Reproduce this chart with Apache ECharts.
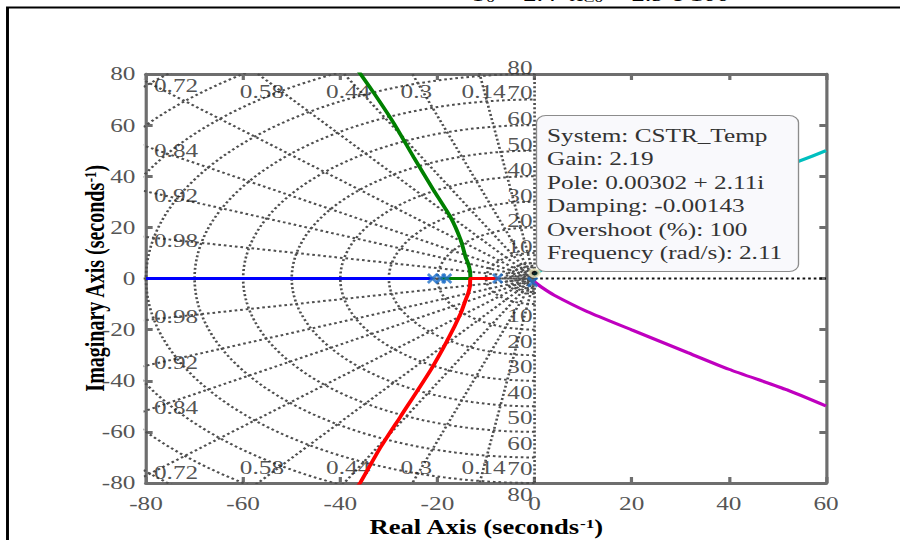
<!DOCTYPE html>
<html>
<head>
<meta charset="utf-8">
<script src="https://cdn.jsdelivr.net/npm/echarts/dist/echarts.min.js"></script>
<style>
html,body{margin:0;padding:0;background:#fff;}
#wrap{width:900px;height:540px;overflow:hidden;background:#fff;}
/* 原图横向被拉伸，这里用 scaleX 复现 */
#main{width:677px;height:540px;transform:scaleX(1.3294);transform-origin:0 0;}
</style>
</head>
<body>
<div id="wrap"><div id="main"></div></div>
<script>
// 坐标轴刻度
var xTicks = [-80, -60, -40, -20, 0, 20, 40, 60];
var yTicks = [-80, -60, -40, -20, 0, 20, 40, 60, 80];

// sgrid 阻尼比 / 自然频率
var zetaLevels = [0.14, 0.3, 0.44, 0.58, 0.72, 0.84, 0.92, 0.98];
var wnLevels = [10, 20, 30, 40, 50, 60, 70, 80];
var wnOuter = [90, 100, 110];
var wnSmall = [1, 2, 3, 4, 5, 6];

// 根轨迹分支
var blueRe = [-80, -21];
var blueIm = [0, 0];
var greenRe = [-19.3, -13.2, -13.3, -13.7, -14.2, -15.2, -17.3, -20.8, -24.9, -29.0, -33.1, -36.2];
var greenIm = [0, 0, 3, 6, 8.4, 15, 24, 34.6, 47.5, 60.8, 72.6, 81];
var redRe = [-7.6, -13.2, -13.3, -13.7, -14.2, -15.2, -17.9, -21.4, -27.6, -31.7, -35.8, -36.3];
var redIm = [0, 0, -3, -6, -8.4, -13.6, -24, -35.8, -54, -66, -79.6, -81];
var magentaRe = [-0.1, 1.5, 4.0, 10.9, 20.0, 31.4, 40.0, 52.0, 60];
var magentaIm = [-1.2, -3.5, -6.5, -13.0, -20.1, -28.9, -35.5, -43.6, -49.9];
var cyanRe = [-0.1, 1.5, 4.0, 10.9, 20.0, 31.4, 40.0, 54.6, 60];
var cyanIm = [1.2, 3.5, 6.5, 13.0, 20.1, 28.9, 35.5, 46, 50];

// 极点
var poleRe = [-21, -19.3, -18.1, -7.6, -0.4];
var poleIm = [0, 0, 0, 0, -1.4];

// 数据提示
var tipRe = 0.00302;
var tipIm = 2.11;
var tipLines = [
    'System: CSTR_Temp',
    'Gain: 2.19',
    'Pole: 0.00302 + 2.11i',
    'Damping: -0.00143',
    'Overshoot (%): 100',
    'Frequency (rad/s): 2.11'
];

var K = 900 / 677;   // 横向拉伸比例
var serif = 'Liberation Serif';
var gridGray = '#4f4f4f';
var axisGray = '#6e6e6e';

function zip(a, b) {
    var out = [];
    for (var i = 0; i < a.length; i++) out.push([a[i], b[i]]);
    return out;
}

function circle(wn) {
    var pts = [];
    for (var i = 0; i <= 120; i++) {
        var t = -Math.PI / 2 + Math.PI * i / 120;
        pts.push([-wn * Math.cos(t), wn * Math.sin(t)]);
    }
    return pts;
}

function gridLine(data, color) {
    return {
        type: 'line', data: data, showSymbol: false, silent: true, z: 1,
        lineStyle: {color: color || gridGray, width: 2, type: [2, 2.2]}
    };
}

var series = [];

// 等频率圆
wnSmall.concat(wnLevels, wnOuter).forEach(function (wn) {
    series.push(gridLine(circle(wn)));
});

// 等阻尼线
zetaLevels.concat([1]).forEach(function (z) {
    var R = 200, s = Math.sqrt(1 - z * z);
    series.push(gridLine([[-R * z, R * s], [0, 0], [-R * z, -R * s]]));
});
series.push(gridLine([[0, -80], [0, 80]]));
series.push(gridLine([[0, 0], [60, 0]], '#111'));

// 标签
var labelData = [];
zetaLevels.forEach(function (z) {
    var s = Math.sqrt(1 - z * z);
    var yEdge = 80 * s / z;
    var txt = String(z);
    if (yEdge >= 80) {
        var xe = -80 * z / s;
        labelData.push({value: [xe, 80], label: {formatter: txt, align: 'center', verticalAlign: 'middle', offset: [4 / K, 18]}});
        labelData.push({value: [xe, -80], label: {formatter: txt, align: 'center', verticalAlign: 'middle', offset: [4 / K, -15]}});
    } else {
        labelData.push({value: [-80, yEdge], label: {formatter: txt, align: 'left', verticalAlign: 'middle', offset: [8 / K, 4]}});
        labelData.push({value: [-80, -yEdge], label: {formatter: txt, align: 'left', verticalAlign: 'middle', offset: [8 / K, -3]}});
    }
});
wnLevels.forEach(function (wn) {
    labelData.push({value: [0, wn], label: {formatter: String(wn), align: 'right', verticalAlign: 'bottom', offset: [-2 / K, 3]}});
    labelData.push({value: [0, -wn], label: {formatter: String(wn), align: 'right', verticalAlign: 'top', offset: [-2 / K, 2]}});
});
series.push({
    type: 'scatter', data: labelData, symbolSize: 0, silent: true, clip: false, z: 3,
    label: {show: true, position: 'inside', fontFamily: serif, fontSize: 19, color: '#262626'}
});

// 分支
function branch(re, im, color) {
    return {
        type: 'line', data: zip(re, im), showSymbol: false, z: 4,
        smooth: 0.2,
        lineStyle: {color: color, width: 3}
    };
}
series.push(branch(blueRe, blueIm, '#0000ff'));
series.push(branch(greenRe, greenIm, '#008000'));
series.push(branch(redRe, redIm, '#ff0000'));
series.push(branch(magentaRe, magentaIm, '#bf00bf'));
series.push(branch(cyanRe, cyanIm, '#00bfbf'));

series.push({
    type: 'scatter', data: zip(poleRe, poleIm), z: 5,
    symbol: 'path://M0,0L10,10M10,0L0,10', symbolSize: [7, 9],
    itemStyle: {color: 'rgba(0,0,0,0)', borderColor: '#1f6fc8', borderWidth: 2.4}
});
series.push({
    type: 'scatter', data: [[tipRe, tipIm]], z: 6, symbolSize: 7,
    itemStyle: {color: '#000', borderColor: '#f3eec4', borderWidth: 2.5}
});

function xAxisCfg(pos, labels) {
    return {
        type: 'value', position: pos, min: -80, max: 60, interval: 20,
        axisLine: {show: true, onZero: false, lineStyle: {color: axisGray, width: 3}},
        axisTick: {show: true, inside: true, length: 6, lineStyle: {color: axisGray, width: 2.4}},
        axisLabel: {show: labels, margin: 11, fontFamily: serif, fontSize: 19, color: '#555'},
        splitLine: {show: false}
    };
}
function yAxisCfg(pos, labels) {
    return {
        type: 'value', position: pos, min: -80, max: 80, interval: 20,
        axisLine: {show: true, onZero: false, lineStyle: {color: axisGray, width: 2.4}},
        axisTick: {show: true, inside: true, length: 5, lineStyle: {color: axisGray, width: 3}},
        axisLabel: {show: labels, margin: 8, fontFamily: serif, fontSize: 19, color: '#555'},
        splitLine: {show: false}
    };
}

var supStyle = {fontFamily: serif, fontSize: 13, fontWeight: 'bold', color: '#000', verticalAlign: 'top', padding: [0, 0, 8, 0]};

var xMain = xAxisCfg('bottom', true);
xMain.name = 'Real Axis (seconds{sup|-1})';
xMain.nameLocation = 'middle';
xMain.nameGap = 34;
xMain.nameMoveOverlap = false;
xMain.nameTextStyle = {fontFamily: serif, fontSize: 20, fontWeight: 'bold', color: '#000', rich: {sup: supStyle}};

var yMain = yAxisCfg('left', true);
yMain.name = 'Imaginary Axis (seconds{sup|-1})';
yMain.nameLocation = 'middle';
yMain.nameGap = 28;
yMain.nameMoveOverlap = false;
yMain.nameTextStyle = {fontFamily: serif, fontSize: 20, fontWeight: 'bold', color: '#000', rich: {sup: supStyle}};

var myChart = echarts.init(document.getElementById('main'), null, {renderer: 'svg'});
var option = {
    animation: false,
    backgroundColor: '#fff',
    grid: {left: 146 / K, right: 74 / K, top: 74, bottom: 57, containLabel: false, outerBoundsMode: 'none'},
    xAxis: [xMain, xAxisCfg('top', false)],
    yAxis: [yMain, yAxisCfg('right', false)],
    series: series,
    graphic: [
        {
            // 被裁掉的标题
            type: 'text', z: 100, silent: true, left: 470 / K, top: -16,
            style: {
                text: 'T{sub|0} = 2.4  x{sub|C0} = 2.9 e 100',
                font: '20px "Liberation Serif"', fill: '#000',
                rich: {sub: {fontFamily: serif, fontSize: 13, fill: '#000', verticalAlign: 'bottom', padding: [6, 0, 0, 0]}}
            }
        },
        {
            type: 'rect', z: 100, silent: true,
            shape: {x: 7.5 / K, y: 7.5, width: 1000, height: 1000},
            style: {fill: 'none', stroke: '#000', lineWidth: 2.2}
        },
        {
            type: 'rect', z: 100, silent: true,
            shape: {x: 536.5 / K, y: 115.5, width: 262 / K, height: 156, r: 7},
            style: {fill: '#f9f9fc', stroke: '#8c8c8c', lineWidth: 1}
        },
        {
            type: 'text', z: 101, silent: true, left: 547 / K, top: 124,
            style: {text: tipLines.join('\n'), font: '19px "Liberation Serif"', lineHeight: 23.4, fill: '#333'}
        }
    ]
};
myChart.setOption(option);
</script>
</body>
</html>
